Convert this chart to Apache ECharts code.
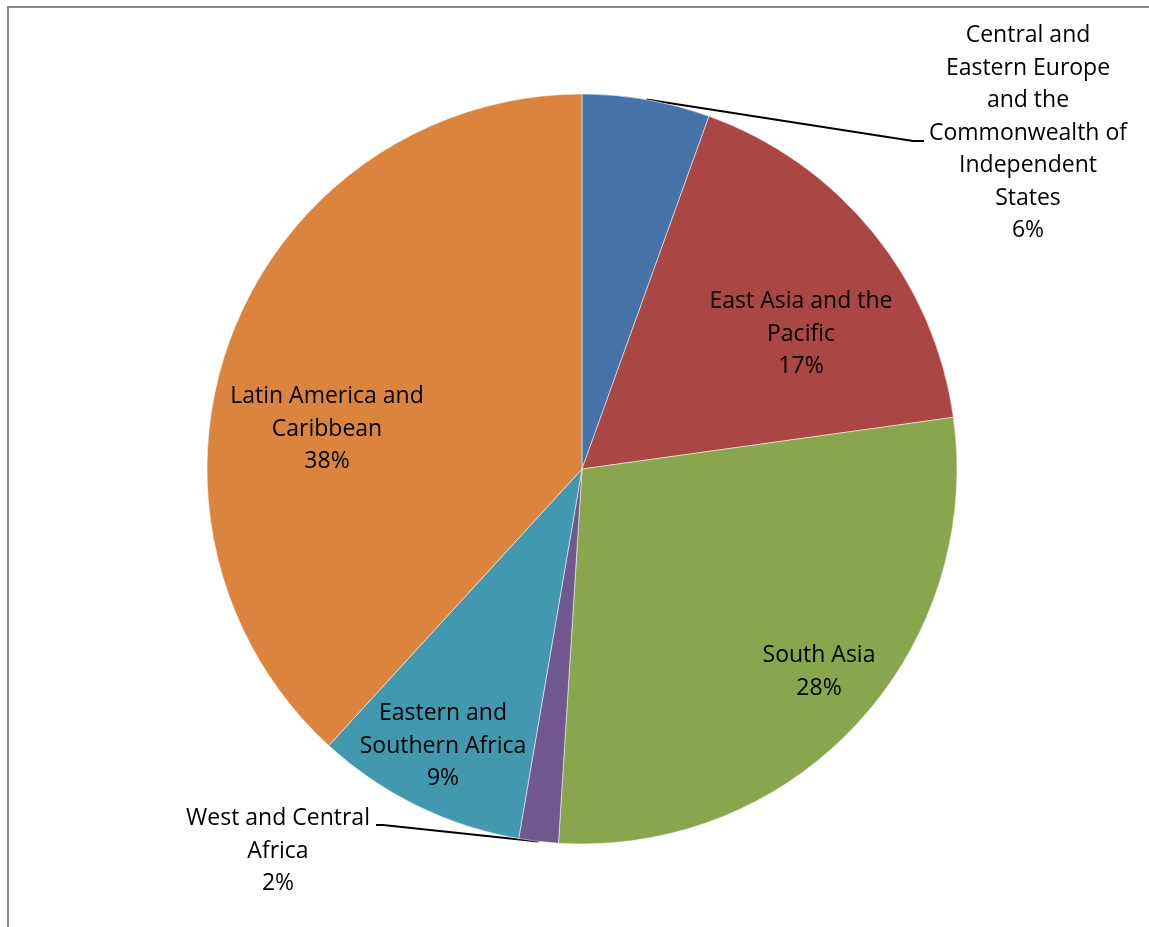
<!DOCTYPE html>
<html>
<head>
<meta charset="utf-8">
<script src="https://cdn.jsdelivr.net/npm/echarts@6/dist/echarts.min.js"></script>
<style>
  html, body { margin: 0; padding: 0; background: #fff; }
  #frame { position: absolute; left: 7px; top: 6px; width: 1160px; height: 940px;
           border-left: 2px solid #888; border-top: 2px solid #888; }
  #chart { position: absolute; left: 0; top: 0; width: 1149px; height: 927px; }
</style>
</head>
<body>
<div id="frame"></div>
<div id="chart"></div>
<script>
// regions, clockwise from 12 o'clock
const regions = [
  'Central and Eastern Europe and the Commonwealth of Independent States',
  'East Asia and the Pacific',
  'South Asia',
  'West and Central Africa',
  'Eastern and Southern Africa',
  'Latin America and Caribbean'
]
// how the label text breaks in the picture
const regionLines = [
  'Central and\nEastern Europe\nand the\nCommonwealth of\nIndependent\nStates',
  'East Asia and the\nPacific',
  'South Asia',
  'West and Central\nAfrica',
  'Eastern and\nSouthern Africa',
  'Latin America and\nCaribbean'
]
const shares = [5.5, 17.3, 28.2, 1.7, 9.1, 38.2]
const colors = ['#4572A7', '#AA4643', '#89A54E', '#71588F', '#4198AF', '#DB843D']
const outsideLabels = [0, 3]

// label placement (centre of the text block) and leader-line elbows
const labelPos = [[1028, 133], [801, 334], [819, 672], [278, 851], [443, 746], [327, 429]]
const lineElbow = {
  0: [[913, 141], [924, 141]],
  3: [[383, 825], [376, 825]]
}

const chart = echarts.init(document.getElementById('chart'))

const pieData = regions.map((name, i) => {
  const item = {
    name: name,
    value: shares[i],
    itemStyle: { color: colors[i] }
  }
  if (outsideLabels.includes(i)) {
    item.label = { position: 'outside' }
    item.labelLine = { show: true }
  }
  return item
})

chart.setOption({
  animation: false,
  backgroundColor: 'transparent',
  series: [
    {
      type: 'pie',
      center: [582, 469],
      radius: 375,
      startAngle: 90,
      clockwise: true,
      avoidLabelOverlap: false,
      itemStyle: { borderColor: '#fff', borderWidth: 0.5 },
      label: {
        show: true,
        position: 'inside',
        color: '#000',
        fontFamily: 'Open Sans',
        fontSize: 23,
        lineHeight: 32.5,
        align: 'center',
        formatter: (p) => regionLines[p.dataIndex] + '\n' + Math.round(p.percent) + '%'
      },
      labelLine: {
        show: false,
        lineStyle: { color: '#000', width: 2 }
      },
      labelLayout: (params) => {
        const i = params.dataIndex
        const out = { x: labelPos[i][0], y: labelPos[i][1], align: 'center', verticalAlign: 'middle' }
        if (lineElbow[i] && params.labelLinePoints) {
          out.labelLinePoints = [params.labelLinePoints[0]].concat(lineElbow[i])
        }
        return out
      },
      data: pieData
    }
  ]
})
</script>
</body>
</html>
